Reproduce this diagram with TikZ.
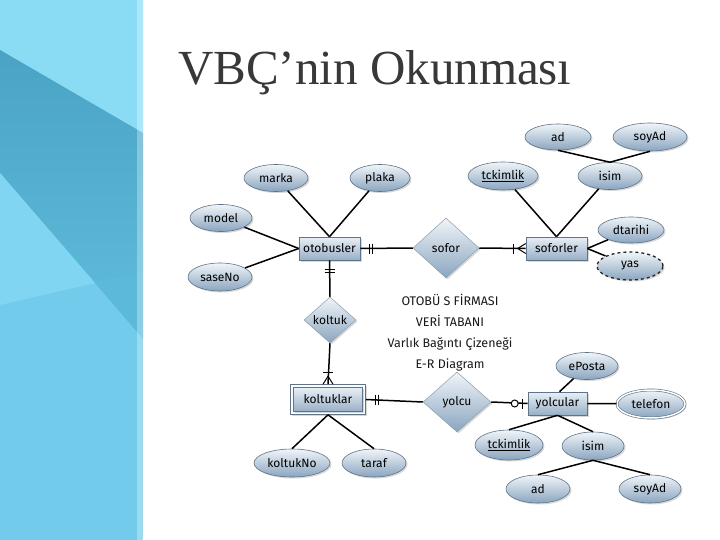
\documentclass[tikz,border=0pt]{standalone}
\usepackage{fontspec}
\setmainfont{Liberation Serif}
\newfontfamily\handfont{Fira Sans}
\usetikzlibrary{shapes.geometric,shadows,calc}
\definecolor{bgBottom}{HTML}{72CBEA}
\definecolor{bgTop}{HTML}{8ADCF5}
\definecolor{bgDarkA}{HTML}{4AA3C4}
\definecolor{bgDarkB}{HTML}{5CB8D8}
\definecolor{bgWedge}{HTML}{80D6F2}
\definecolor{bgTri}{HTML}{5DB9DA}
\definecolor{attrtop}{HTML}{F0F5F9}
\definecolor{attrbot}{HTML}{8AA5BF}
\definecolor{attrline}{HTML}{5F7488}
\definecolor{enttop}{HTML}{E8EFF6}
\definecolor{entbot}{HTML}{98B0C6}
\definecolor{titlegray}{HTML}{383838}
\begin{document}
\begin{tikzpicture}[x=1pt,y=-1pt,
  lbl/.style={font=\handfont\fontsize{12}{14}\selectfont, text=black},
  attr/.style={ellipse, draw=attrline, line width=0.6pt, top color=attrtop, bottom color=attrbot,
    inner sep=0pt, drop shadow={opacity=0.3,shadow xshift=1.5pt,shadow yshift=-1.5pt}, lbl},
  ent/.style={rectangle, draw=attrline, line width=0.6pt, top color=enttop, bottom color=entbot,
    inner sep=0pt, drop shadow={opacity=0.3,shadow xshift=1.5pt,shadow yshift=-1.5pt}, lbl},
  rel/.style={diamond, draw=attrline!70, line width=0.5pt, top color=attrtop, bottom color=attrbot,
    inner sep=0pt, drop shadow={opacity=0.3,shadow xshift=1.5pt,shadow yshift=-1.5pt}, lbl},
  conn/.style={draw=black, line width=1.5pt},
  tickmark/.style={draw=black, line width=1pt}
]
\useasboundingbox (0,0) rectangle (720,540);
\fill[white] (0,0) rectangle (720,540);
% left decorative panel
\fill[bgBottom] (0,0) rectangle (143,540);
\fill[bgTop] (0,0) -- (143,0) -- (143,133) -- (0,50) -- cycle;
\shade[top color=bgDarkA, bottom color=bgDarkB] (0,50) -- (143,133) -- (143,273) -- (95,283) -- (0,173) -- cycle;
\fill[bgWedge] (0,173) -- (95,283) -- (0,305) -- cycle;
\fill[bgTri] (95,283) -- (143,273) -- (143,339) -- cycle;
\fill[white, opacity=0.3] (137,0) rectangle (143,540);

% title
\node[anchor=base west, inner sep=0pt, text=titlegray, font=\fontsize{49}{55}\selectfont] (title) at (178,85) {VBÇ’nin Okunması};

% weak entity outer frame
\coordinate (koltC) at (328,399.5);
\draw[draw=attrline, line width=0.6pt, fill=white!80!enttop,
  drop shadow={opacity=0.3,shadow xshift=1.5pt,shadow yshift=-1.5pt}]
  ($(koltC)+(-37.5,-15)$) rectangle ($(koltC)+(37.5,15)$);

% entities
\node[ent, minimum width=61pt, minimum height=23pt] (otob) at (329.5,248.5) {otobusler};
\node[ent, minimum width=61pt, minimum height=23pt] (sofl) at (556.5,248.5) {soforler};
\node[ent, minimum width=69pt, minimum height=24pt, drop shadow={opacity=0}] (kolt) at (koltC) {koltuklar};
\node[ent, minimum width=59pt, minimum height=23pt] (yolc) at (557.5,403.5) {yolcular};

% relationships
\node[rel, minimum width=66pt, minimum height=60pt] (sofor) at (446,248) {sofor};
\node[rel, minimum width=52pt, minimum height=46pt] (koltuk) at (330,320) {koltuk};
\node[rel, minimum width=68pt, minimum height=60pt] (yolcu) at (457,402) {yolcu};

% attributes
\node[attr, minimum width=64pt, minimum height=27pt] (marka) at (276,178) {marka};
\node[attr, minimum width=60pt, minimum height=27pt] (plaka) at (380,178) {plaka};
\node[attr, minimum width=62pt, minimum height=27pt] (model) at (221,218) {model};
\node[attr, minimum width=64pt, minimum height=28pt] (saseno) at (220,277) {saseNo};
\node[attr, minimum width=66pt, minimum height=26pt] (adA) at (558,137) {ad};
\node[attr, minimum width=74pt, minimum height=28pt] (soyadA) at (650,137) {soyAd};
\node[attr, minimum width=70pt, minimum height=28pt] (tckA) at (503,176) {\underline{tckimlik}};
\node[attr, minimum width=64pt, minimum height=27pt] (isimA) at (610,176) {isim};
\node[attr, minimum width=66pt, minimum height=26pt] (dtarihi) at (631,230) {dtarihi};
\node[attr, minimum width=66pt, minimum height=28pt, draw=black!85, line width=1.3pt, dashed] (yas) at (630,266) {yas};
\node[attr, minimum width=76pt, minimum height=28pt] (koltukno) at (292,463) {koltukNo};
\node[attr, minimum width=64pt, minimum height=28pt] (taraf) at (374,463) {taraf};
\node[attr, minimum width=62pt, minimum height=27pt] (eposta) at (587,366) {ePosta};
\node[attr, minimum width=68pt, minimum height=28pt, double=white!85!attrtop, double distance=1.5pt] (telefon) at (651,404) {telefon};
\node[attr, minimum width=68pt, minimum height=30pt] (tckB) at (509,445) {\underline{tckimlik}};
\node[attr, minimum width=62pt, minimum height=28pt] (isimB) at (593,446) {isim};
\node[attr, minimum width=64pt, minimum height=28pt] (adB) at (538,489) {ad};
\node[attr, minimum width=62pt, minimum height=28pt] (soyadB) at (650,489) {soyAd};

% centre caption
\node[align=center, font=\handfont\fontsize{12.5}{21}\selectfont, text=black!90] (caption) at (450,333)
  {OTOBÜ S FİRMASI\\VERİ TABANI\\Varlık Bağıntı Çizeneği\\E-R Diagram};

% connectors: attributes
\draw[conn] (marka) -- (otob.north);
\draw[conn] (plaka) -- (otob.north);
\draw[conn] (model) -- (otob.west);
\draw[conn] (saseno) -- (otob.west);
\draw[conn] (tckA) -- (sofl.north);
\draw[conn] (isimA) -- (sofl.north);
\draw[conn] (adA.south) -- (isimA.north);
\draw[conn] (soyadA.south) -- (isimA.north);
\draw[conn] (dtarihi) -- (sofl.east);
\draw[conn] (yas) -- (sofl.east);
\draw[conn] (koltukno.north) -- ($(kolt.south)+(0,3)$);
\draw[conn] (taraf.north) -- ($(kolt.south)+(0,3)$);
\draw[conn] (eposta) -- ([xshift=2pt]yolc.north);
\draw[conn] (telefon) -- (yolc.east);
\draw[conn] (tckB.north) -- (yolc.south);
\draw[conn] (isimB.north) -- (yolc.south);
\draw[conn] (adB.north) -- (isimB.south);
\draw[conn] (soyadB.north) -- (isimB.south);

% connectors: relationships
\draw[conn] (otob.east) -- (sofor.west);
\draw[tickmark] ($(otob.east)+(9,-5)$) -- ++(0,10);
\draw[tickmark] ($(otob.east)+(12,-5)$) -- ++(0,10);

\draw[conn] (sofor.east) -- (sofl.west);
\draw[tickmark] ($(sofl.west)+(-12,-5)$) -- ++(0,10);
\draw[tickmark] ($(sofl.west)+(-8,0)$) -- ($(sofl.west)+(0,-5)$);
\draw[tickmark] ($(sofl.west)+(-8,0)$) -- ($(sofl.west)+(0,5)$);

\draw[conn] (otob.south) -- (koltuk.north);
\draw[tickmark] ($(otob.south)+(-5,9)$) -- ++(10,0);
\draw[tickmark] ($(otob.south)+(-5,12)$) -- ++(10,0);

\draw[conn] (koltuk.south) -- ($(kolt.north)+(0,-3)$);
\draw[tickmark] ($(kolt.north)+(-5,-15)$) -- ++(10,0);
\draw[tickmark] ($(kolt.north)+(0,-11)$) -- ($(kolt.north)+(-5,-3)$);
\draw[tickmark] ($(kolt.north)+(0,-11)$) -- ($(kolt.north)+(5,-3)$);

\draw[conn] ($(kolt.east)+(3,0)$) -- (yolcu.west);
\draw[tickmark] ($(kolt.east)+(13,-5)$) -- ++(0,10);
\draw[tickmark] ($(kolt.east)+(16,-5)$) -- ++(0,10);

\draw[conn] (yolcu.east) -- (yolc.west);
\draw[tickmark] ($(yolc.west)+(-5,-5)$) -- ++(0,10);
\draw[tickmark, fill=white] ($(yolc.west)+(-13,0)$) circle (3.5pt);
\end{tikzpicture}
\end{document}
